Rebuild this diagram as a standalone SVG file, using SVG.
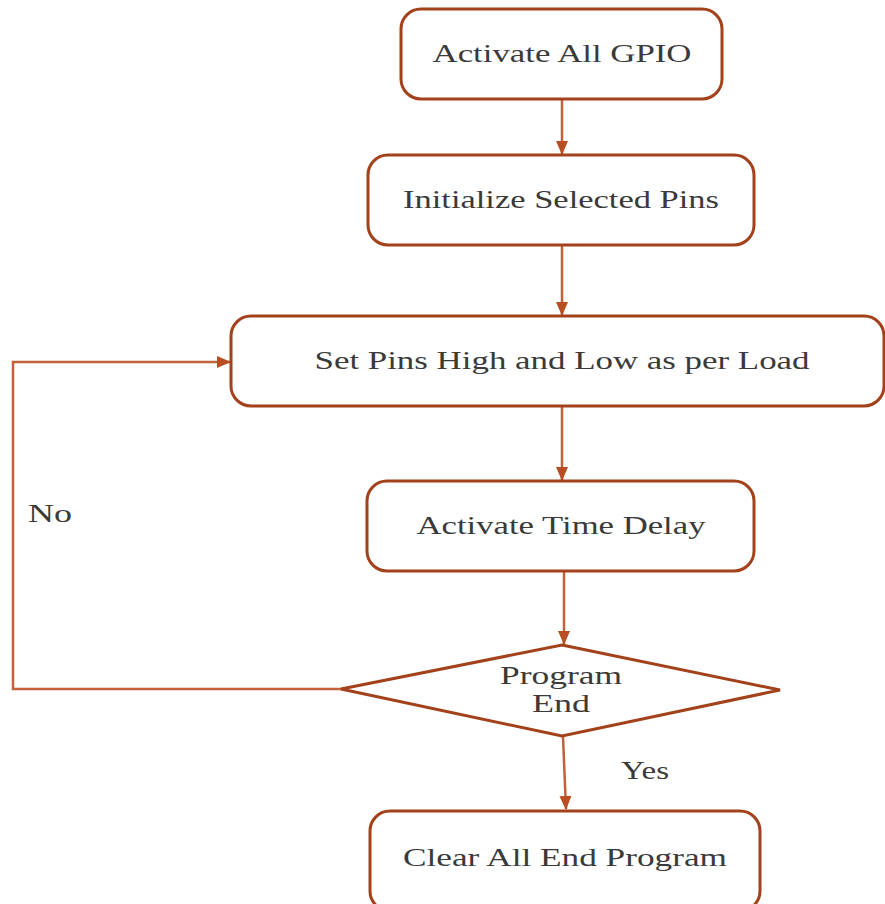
<svg xmlns="http://www.w3.org/2000/svg" width="885" height="904" viewBox="0 0 885 904">
<style>
.box{fill:#fff;stroke:#A3411B;stroke-width:3}
.t{font-family:"Liberation Serif","Times New Roman",serif;font-size:25px;fill:#3a3a3a;text-anchor:middle}
.tl{font-family:"Liberation Serif","Times New Roman",serif;font-size:25px;fill:#3a3a3a}
.c{fill:none;stroke:#C4613A;stroke-width:2.5}
</style>
<defs>
<marker id="ah" markerWidth="10" markerHeight="10" refX="9" refY="5" orient="auto" markerUnits="userSpaceOnUse" viewBox="0 0 10 10">
<path d="M0,0 L10,5 L0,10 z" fill="#B84E22"/>
</marker>
<marker id="ahl" markerWidth="14" markerHeight="12" refX="13" refY="6" orient="auto" markerUnits="userSpaceOnUse" viewBox="0 0 14 12">
<path d="M0,0 L14,6 L0,12 z" fill="#B84E22"/>
</marker>
</defs>
<g id="connectors">
<line class="c" x1="562" y1="100" x2="562" y2="154" marker-end="url(#ahl)"/>
<line class="c" x1="562" y1="246" x2="562" y2="315" marker-end="url(#ahl)"/>
<line class="c" x1="562" y1="407" x2="562" y2="480" marker-end="url(#ahl)"/>
<line class="c" x1="564" y1="572" x2="564" y2="644" marker-end="url(#ahl)"/>
<line class="c" x1="563" y1="737" x2="566" y2="809" marker-end="url(#ahl)"/>
<polyline class="c" points="341,689 13,689 13,362 230,362" marker-end="url(#ahl)"/>
<text class="tl" x="28" y="522" textLength="44" lengthAdjust="spacingAndGlyphs">No</text>
<text class="tl" x="621" y="779" textLength="48" lengthAdjust="spacingAndGlyphs">Yes</text>
</g>
<g id="n1">
<rect class="box" x="401" y="9" width="321" height="90" rx="20"/>
<text class="t" x="562" y="62" textLength="259" lengthAdjust="spacingAndGlyphs">Activate All GPIO</text>
</g>
<g id="n2">
<rect class="box" x="368" y="155" width="386" height="90" rx="20"/>
<text class="t" x="561" y="208" textLength="316" lengthAdjust="spacingAndGlyphs">Initialize Selected Pins</text>
</g>
<g id="n3">
<rect class="box" x="231" y="316" width="653" height="90" rx="20"/>
<text class="t" x="562" y="369" textLength="495" lengthAdjust="spacingAndGlyphs">Set Pins High and Low as per Load</text>
</g>
<g id="n4">
<rect class="box" x="367" y="481" width="387" height="90" rx="20"/>
<text class="t" x="561" y="534" textLength="289" lengthAdjust="spacingAndGlyphs">Activate Time Delay</text>
</g>
<g id="n5">
<polygon class="box" points="562,645 780,690 562,736 341,689"/>
<text class="t" x="561" y="684" textLength="122" lengthAdjust="spacingAndGlyphs">Program</text>
<text class="t" x="561" y="712" textLength="58" lengthAdjust="spacingAndGlyphs">End</text>
</g>
<g id="n6">
<rect class="box" x="370" y="811" width="390" height="100" rx="20"/>
<text class="t" x="565" y="866" textLength="324" lengthAdjust="spacingAndGlyphs">Clear All End Program</text>
</g>
</svg>
